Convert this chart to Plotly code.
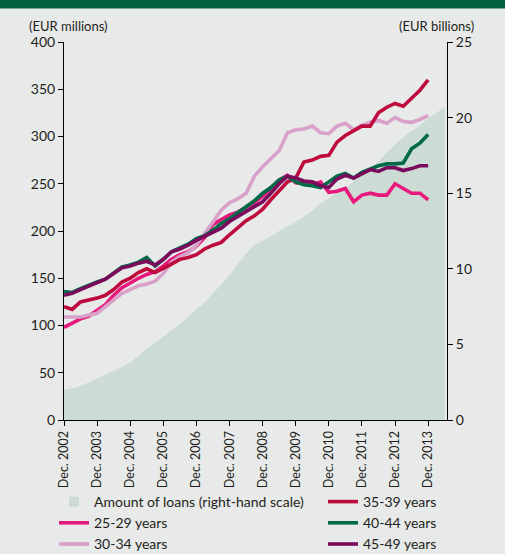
import pandas as pd
import plotly.graph_objects as go

# ---------------- data ----------------
line_dates = pd.date_range("2002-12-01", periods=45, freq="3MS")
area_dates = pd.date_range("2002-12-01", periods=47, freq="3MS")

loans_bn = [2.0, 2.1, 2.25, 2.5, 2.75, 3.0, 3.25, 3.5, 3.8, 4.25, 4.7, 5.1, 5.5, 5.95, 6.35, 6.8,
            7.35, 7.75, 8.4, 8.95, 9.6, 10.3, 11.0, 11.6, 11.85, 12.15, 12.5, 12.8, 13.1, 13.45,
            13.85, 14.35, 14.65, 15.1, 15.35, 15.75, 16.2, 16.7, 17.1, 17.7, 18.2, 18.7, 19.1,
            19.5, 19.95, 20.3, 20.7]

age_25_29 = [98, 102, 107, 110, 116, 122, 132, 140, 145, 150, 154, 157, 163, 170, 175, 178,
             184, 193, 207, 212, 217, 220, 225, 230, 237, 245, 254, 259, 251, 250, 249, 252,
             241, 242, 245, 231, 238, 240, 238, 238, 250, 245, 240, 240, 233]

age_30_34 = [109, 109, 109, 111, 113, 120, 127, 134, 138, 142, 144, 147, 155, 167, 173, 177,
             185, 197, 210, 222, 230, 234, 240, 258, 268, 277, 285, 304, 307, 308, 311, 304,
             303, 311, 314, 307, 312, 315, 317, 314, 320, 316, 315, 318, 322]

age_35_39 = [120, 117, 125, 127, 129, 132, 138, 146, 150, 156, 160, 156, 160, 165, 170, 172,
             175, 181, 185, 188, 196, 203, 211, 216, 223, 233, 243, 252, 256, 273, 275, 279,
             280, 294, 301, 306, 311, 311, 325, 331, 335, 332, 341, 349, 360]

age_40_44 = [136, 135, 139, 143, 146, 149, 156, 162, 164, 167, 172, 163, 170, 178, 182, 186,
             192, 195, 201, 208, 213, 219, 225, 232, 240, 246, 254, 258, 252, 249, 248, 246,
             252, 258, 261, 256, 262, 265, 269, 271, 271, 272, 287, 293, 302]

age_45_49 = [132, 134, 138, 142, 146, 149, 155, 161, 163, 166, 168, 164, 170, 178, 181, 185,
             190, 194, 198, 203, 210, 215, 220, 226, 231, 240, 250, 258, 256, 253, 252, 248,
             246, 255, 259, 256, 260, 265, 263, 267, 267, 264, 266, 269, 269]

tick_dates = pd.date_range("2002-12-01", periods=12, freq="12MS")
tick_labels = ["Dec. %d" % y for y in range(2002, 2014)]

# ---------------- style ----------------
BG = "#E8EAE9"
AREA = "#CCDCD5"
TXT = "#231F20"
FONT = "Lato"

# (name, values, colour, legend column, rank within legend)
series = [
    ("25-29 years", age_25_29, "#E8197D", "legend", 2),
    ("30-34 years", age_30_34, "#D9A0C9", "legend", 3),
    ("35-39 years", age_35_39, "#BE0A3D", "legend2", 1),
    ("40-44 years", age_40_44, "#006A47", "legend2", 2),
    ("45-49 years", age_45_49, "#7B0A5C", "legend2", 3),
]

fig = go.Figure()

# area on the primary (right-hand) axis so it is drawn underneath the lines
fig.add_trace(go.Scatter(
    x=area_dates, y=loans_bn, mode="none", fill="tozeroy", fillcolor=AREA,
    xaxis="x", yaxis="y", showlegend=False, hoverinfo="skip"))
# legend-only square for the area
fig.add_trace(go.Scatter(
    x=[None], y=[None], mode="markers", name="Amount of loans (right-hand scale)",
    marker=dict(symbol="square", size=10, color=AREA), xaxis="x", yaxis="y",
    legend="legend", legendrank=1))

for name, vals, col, leg, rank in series:
    fig.add_trace(go.Scatter(
        x=line_dates, y=vals, mode="lines", name=name,
        line=dict(color=col, width=3.6), xaxis="x", yaxis="y2",
        legend=leg, legendrank=rank))

def axis_style(size=14):
    return dict(showline=True, linecolor="black", linewidth=1, ticks="outside",
                ticklen=5, tickcolor="black", showgrid=False, zeroline=False,
                tickfont=dict(family=FONT, size=size, color=TXT))

legend_common = dict(orientation="v", xanchor="left", yanchor="top",
                     traceorder="normal", font=dict(family=FONT, size=14, color=TXT),
                     bgcolor="rgba(0,0,0,0)", itemwidth=30, tracegroupgap=0)

fig.update_layout(
    width=505, height=554,
    margin=dict(l=64, r=58, t=42, b=134, autoexpand=False),
    paper_bgcolor=BG, plot_bgcolor=BG,
    font=dict(family=FONT, size=13, color=TXT),
    xaxis=dict(type="date", range=["2002-12-01", "2014-06-27"],
               tickmode="array", tickvals=tick_dates, ticktext=tick_labels,
               tickangle=-90, **axis_style(12.5)),
    yaxis=dict(side="right", range=[0, 25], tickvals=[0, 5, 10, 15, 20, 25], **axis_style()),
    yaxis2=dict(side="left", overlaying="y", range=[0, 400],
                tickvals=[0, 50, 100, 150, 200, 250, 300, 350, 400], **axis_style()),
    legend=dict(x=(54 - 64) / 383, y=(420 - 486) / 378, **legend_common),
    legend2=dict(x=(323 - 64) / 383, y=(420 - 486) / 378, **legend_common),
    showlegend=True,
    annotations=[
        dict(text="(EUR millions)", xref="paper", yref="paper", x=-0.097, y=(420 - 26) / 378,
             xanchor="left", yanchor="middle", showarrow=False,
             font=dict(family=FONT, size=13, color=TXT)),
        dict(text="(EUR billions)", xref="paper", yref="paper", x=1.076, y=(420 - 26) / 378,
             xanchor="right", yanchor="middle", showarrow=False,
             font=dict(family=FONT, size=13, color=TXT)),
    ],
    shapes=[
        dict(type="rect", xref="paper", yref="paper", x0=-0.2, x1=1.2,
             y0=(420 - 8.5) / 378, y1=1.2, fillcolor="#00613F", line=dict(width=0),
             layer="above"),
    ],
)

fig.write_html("out.html",
               config={"displayModeBar": False},
               post_script="document.body.style.margin='0';document.body.style.background='%s';" % BG)
